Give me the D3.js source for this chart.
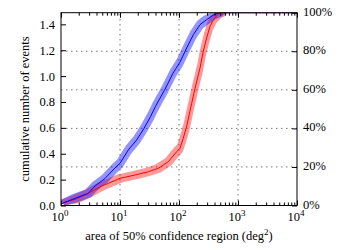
<!DOCTYPE html>
<html>
<head>
<meta charset="utf-8">
<script src="https://cdn.jsdelivr.net/npm/d3@7"></script>
<style>
  body { margin: 0; background: #fff; }
</style>
</head>
<body>
<div id="chart"></div>
<script>
// [area deg^2, cumulative fraction]
const blueLine = [
  [1.02, 0.010], [1.73, 0.037], [2.90, 0.063], [3.77, 0.101], [5.57, 0.140],
  [8.23, 0.195], [10.0, 0.219], [13.8, 0.288], [19.2, 0.340], [25.5, 0.400],
  [32.9, 0.461], [39.6, 0.512], [57.9, 0.603], [79.1, 0.686], [104, 0.744],
  [135, 0.817], [175, 0.886], [227, 0.938], [294, 0.964], [381, 0.987],
  [482, 1.0], [10000, 1.0]
];
const blueUpper = [
  [1.0, 0.030], [1.55, 0.058], [2.60, 0.083], [3.38, 0.121], [5.0, 0.160],
  [7.38, 0.215], [8.97, 0.239], [12.4, 0.308], [17.2, 0.360], [22.9, 0.420],
  [29.5, 0.481], [35.5, 0.532], [51.9, 0.623], [70.9, 0.706], [93.3, 0.764],
  [121, 0.837], [157, 0.906], [204, 0.958], [264, 0.984], [342, 1.0], [10000, 1.0]
];
const blueLower = [
  [1.14, 0.0], [1.93, 0.017], [3.23, 0.043], [4.20, 0.081], [6.21, 0.120],
  [9.18, 0.175], [11.15, 0.199], [15.4, 0.268], [21.4, 0.320], [28.4, 0.380],
  [36.7, 0.441], [44.2, 0.492], [64.6, 0.583], [88.2, 0.666], [116, 0.724],
  [151, 0.797], [195, 0.866], [253, 0.918], [328, 0.944], [425, 0.967],
  [537, 0.980], [630, 1.0], [10000, 1.0]
];

const redLine = [
  [1.02, 0.010], [1.73, 0.032], [2.90, 0.063], [4.90, 0.101], [6.33, 0.115],
  [10.0, 0.141], [17.9, 0.158], [30.2, 0.175], [44.6, 0.193], [65.9, 0.227],
  [91.4, 0.279], [104, 0.297], [118, 0.349], [135, 0.412], [164, 0.530],
  [187, 0.608], [227, 0.713], [258, 0.800], [294, 0.869], [335, 0.929],
  [381, 0.964], [464, 0.993], [529, 1.0], [10000, 1.0]
];
const redUpper = [
  [1.0, 0.030], [1.55, 0.052], [2.60, 0.083], [4.39, 0.121], [5.68, 0.135],
  [8.97, 0.161], [16.1, 0.178], [27.1, 0.195], [40.0, 0.213], [59.1, 0.247],
  [82.0, 0.299], [93.3, 0.317], [106, 0.369], [121, 0.432], [147, 0.550],
  [168, 0.628], [204, 0.733], [231, 0.820], [264, 0.889], [300, 0.949],
  [342, 0.984], [416, 1.0], [10000, 1.0]
];
const redLower = [
  [1.14, 0.0], [1.93, 0.012], [3.23, 0.043], [5.46, 0.081], [7.06, 0.095],
  [11.15, 0.121], [20.0, 0.138], [33.7, 0.155], [49.7, 0.173], [73.5, 0.207],
  [102, 0.259], [116, 0.277], [132, 0.329], [151, 0.392], [183, 0.510],
  [209, 0.588], [253, 0.693], [288, 0.780], [328, 0.849], [374, 0.909],
  [425, 0.944], [517, 0.973], [590, 0.980], [680, 1.0], [10000, 1.0]
];

const leftTicks = [0, 0.2, 0.4, 0.6, 0.8, 1.0, 1.2, 1.4];
const rightTicks = [0, 0.2, 0.4, 0.6, 0.8, 1.0];
const decades = [1, 10, 100, 1000, 10000];

const serif = '"Liberation Serif", "Times New Roman", Tinos, Times, "DejaVu Serif", serif';
const width = 350;
const height = 250;
const margin = {top: 12.7, right: 53, bottom: 44.5, left: 61};

const svg = d3.select('#chart')
  .append('svg')
  .attr('width', width)
  .attr('height', height)
  .style('font-family', serif);

const x = d3.scaleLog()
  .domain([1, 10000])
  .range([margin.left, width - margin.right]);

const y = d3.scaleLinear()
  .domain([0, 1])
  .range([height - margin.bottom, margin.top]);

const yLeft = d3.scaleLinear()
  .domain([0, 1.49])
  .range([height - margin.bottom, margin.top]);

const minors = [];
decades.slice(0, -1).forEach(d => {
  for (let k = 2; k < 10; k++) minors.push(d * k);
});

svg.append('defs').append('clipPath').attr('id', 'clip')
  .append('rect')
  .attr('x', margin.left).attr('y', margin.top)
  .attr('width', x.range()[1] - margin.left)
  .attr('height', y.range()[0] - margin.top);

// grid
const grid = svg.append('g')
  .attr('stroke', '#555')
  .attr('stroke-width', 0.8)
  .attr('stroke-dasharray', '1.5,3.5');
grid.selectAll('.gx')
  .data(decades.slice(1, -1))
  .join('line')
  .attr('x1', d => x(d)).attr('x2', d => x(d))
  .attr('y1', y(0)).attr('y2', y(1));
grid.selectAll('.gy')
  .data(rightTicks.slice(1, -1))
  .join('line')
  .attr('x1', x(1)).attr('x2', x(10000))
  .attr('y1', d => y(d)).attr('y2', d => y(d));

const plot = svg.append('g').attr('clip-path', 'url(#clip)');
const line = d3.line().x(d => x(d[0])).y(d => y(d[1]));

function band(up, lo) {
  return line(up.concat(lo.slice().reverse())) + 'Z';
}

plot.append('path')
  .attr('d', band(redUpper, redLower))
  .attr('fill', '#ff0000')
  .attr('fill-opacity', 0.4);
plot.append('path')
  .attr('d', band(blueUpper, blueLower))
  .attr('fill', '#0000ff')
  .attr('fill-opacity', 0.42);
plot.append('path')
  .attr('d', line(redLine))
  .attr('fill', 'none')
  .attr('stroke', '#ff0000')
  .attr('stroke-width', 1);
plot.append('path')
  .attr('d', line(blueLine))
  .attr('fill', 'none')
  .attr('stroke', '#0000ff')
  .attr('stroke-width', 1);

// axes
function clean(g) {
  g.attr('font-family', null);
  g.select('.domain').remove();
  g.selectAll('text')
    .style('font-family', serif)
    .attr('font-size', 12.5)
    .attr('fill', '#000');
}

svg.append('g')
  .attr('transform', `translate(${margin.left},0)`)
  .call(d3.axisLeft(yLeft).tickValues(leftTicks).tickFormat(d3.format('.1f'))
    .tickSize(-5).tickSizeOuter(0).tickPadding(6))
  .call(clean);

svg.append('g')
  .attr('transform', `translate(${x.range()[1]},-1.5)`)
  .call(d3.axisRight(y).tickValues(rightTicks).tickFormat(d3.format('.0%'))
    .tickSize(-5).tickSizeOuter(0).tickPadding(6))
  .call(clean)
  .selectAll('line').attr('transform', 'translate(0,1.5)');

svg.append('g')
  .attr('transform', `translate(0,${y(0)})`)
  .call(d3.axisBottom(x).tickValues(decades).tickFormat('').tickSize(-5).tickSizeOuter(0))
  .call(clean);
svg.append('g')
  .attr('transform', `translate(0,${y(0)})`)
  .call(d3.axisBottom(x).tickValues(minors).tickFormat('').tickSize(-3).tickSizeOuter(0))
  .call(clean);
svg.append('g')
  .attr('transform', `translate(0,${y(1)})`)
  .call(d3.axisTop(x).tickValues(decades).tickFormat('').tickSize(-5).tickSizeOuter(0))
  .call(clean);
svg.append('g')
  .attr('transform', `translate(0,${y(1)})`)
  .call(d3.axisTop(x).tickValues(minors).tickFormat('').tickSize(-3).tickSizeOuter(0))
  .call(clean);

// x tick labels 10^n
const xl = svg.append('g')
  .selectAll('text')
  .data(decades)
  .join('text')
  .style('font-family', serif)
  .attr('font-size', 12.5)
  .attr('x', d => x(d) - 1)
  .attr('y', y(0) + 15)
  .attr('text-anchor', 'middle');
xl.append('tspan').text('10');
xl.append('tspan')
  .attr('font-size', 9)
  .attr('dy', -5)
  .text(d => Math.round(Math.log10(d)));

// frame
svg.append('rect')
  .attr('x', margin.left).attr('y', margin.top)
  .attr('width', x.range()[1] - margin.left)
  .attr('height', y.range()[0] - margin.top)
  .attr('fill', 'none')
  .attr('stroke', '#000')
  .attr('stroke-width', 1);

// titles
const xt = svg.append('text')
  .style('font-family', serif)
  .attr('x', (x.range()[0] + x.range()[1]) / 2)
  .attr('y', 240)
  .attr('text-anchor', 'middle')
  .attr('font-size', 12.5);
xt.append('tspan').text('area of 50% confidence region (deg');
xt.append('tspan').attr('font-size', 9).attr('dy', -5).text('2');
xt.append('tspan').attr('dy', 5).text(')');

svg.append('text')
  .style('font-family', serif)
  .attr('transform', `translate(29,${(y(0) + y(1)) / 2}) rotate(-90)`)
  .attr('text-anchor', 'middle')
  .attr('font-size', 12.5)
  .text('cumulative number of events');
</script>
</body>
</html>
